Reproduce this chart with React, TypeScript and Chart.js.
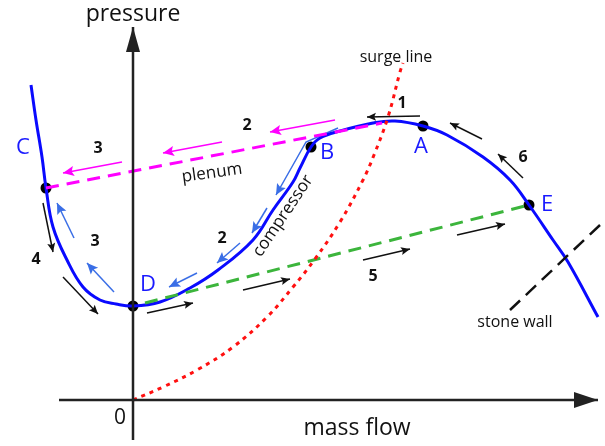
import React, { useEffect, useRef } from "react";
import { Chart, registerables } from "chart.js";

Chart.register(...registerables);

// ---- data (mass flow on x, pressure on y, arbitrary units, origin = 0) ----
const compressorFlow = [-102, -97, -91, -87, -80, -66, -50, -33, -17, 0, 27, 57, 85, 120, 140, 160, 167, 178, 187, 207, 240, 262, 290, 314, 350, 377, 396, 420, 435, 465];
const compressorPressure = [315, 280, 243, 212, 173, 140, 113, 100, 96, 94, 98, 112, 130, 160, 190, 218, 232, 253, 262, 269, 277, 279, 274, 265, 243, 220, 195, 160, 138, 83];

const surgeFlow = [0, 30, 64, 100, 134, 160, 182, 207, 230, 241, 255, 267, 270];
const surgePressure = [0, 13, 30, 53, 83, 113, 141, 178, 220, 245, 283, 328, 337];

const plenumFlow = [-87, 249];
const plenumPressure = [212, 277];

const dischargeFlow = [12, 396];
const dischargePressure = [97, 195];

const stoneWallFlow = [467, 377];
const stoneWallPressure = [175, 90];

const pointNames = ["A", "B", "C", "D", "E"];
const pointFlow = [290, 178, -87, 0, 396];
const pointPressure = [274, 253, 212, 94, 195];

// arrows as [fromFlow, fromPressure, toFlow, toPressure]
const blackArrows = [
  [287, 284, 234, 283],
  [349, 261, 317, 277],
  [390, 222, 365, 246],
  [-90, 197, -80, 148],
  [-70, 123, -35, 86],
  [14, 87, 60, 97],
  [110, 110, 157, 121],
  [230, 140, 277, 151],
  [324, 165, 372, 176],
];
const magentaArrows = [
  [202, 280, 137, 268],
  [89, 258, 30, 247],
  [-11, 238, -70, 227],
];
const blueArrows = [
  [134, 192, 119, 167],
  [107, 157, 84, 137],
  [64, 127, 36, 113],
  [-59, 162, -76, 197],
  [-19, 108, -46, 137],
];
const bentArrowFlow = [205, 173, 143];
const bentArrowPressure = [272, 258, 205];

const xAxisFlow = [-74, 465];
const yAxisPressure = [-40, 373];

const stepNumbers = ["1", "2", "3", "6", "3", "4", "2", "5"];
const stepFlow = [269, 114, -35, 390, -38, -97, 89, 240];
const stepPressure = [297, 275, 252, 243, 159, 141, 162, 124];

const textLabels = ["pressure", "mass flow", "0", "surge line", "stone wall", "plenum", "compressor"];
const textFlow = [0, 224, -13, 263, 382, 79, 150];
const textPressure = [386, -28, -18, 343, 78, 227, 184];

const nameFlow = [288, 194, -110, 15, 414];
const namePressure = [253, 247, 252, 115, 195];

// ---- styles ----
const FONT = '"Open Sans", "Noto Sans", sans-serif';
const textStyle = [
  { size: 23, rot: 0 },
  { size: 23, rot: 0 },
  { size: 21, rot: 0 },
  { size: 16, rot: 0 },
  { size: 16, rot: 0 },
  { size: 17, rot: -8 },
  { size: 17, rot: -56 },
];

const pts = (xs: number[], ys: number[]) => xs.map((x, i) => ({ x, y: ys[i] }));

const lineDs = (data: any[], color: string, width: number, extra: any = {}) => ({
  type: "scatter",
  data,
  showLine: true,
  borderColor: color,
  backgroundColor: color,
  borderWidth: width,
  pointRadius: 0,
  pointHoverRadius: 0,
  tension: 0,
  fill: false,
  clip: false,
  ...extra,
});

const arrowDs = (a: number[], color: string, width: number, head: number[]) =>
  lineDs(pts([a[0], a[2]], [a[1], a[3]]), color, width, { arrowHead: head });

const drawHead = (ctx: CanvasRenderingContext2D, from: any, to: any, head: number[], color: string) => {
  const [len, half, notch] = head;
  const ang = Math.atan2(to.y - from.y, to.x - from.x);
  ctx.save();
  ctx.translate(to.x, to.y);
  ctx.rotate(ang);
  ctx.beginPath();
  ctx.moveTo(0, 0);
  ctx.lineTo(-len, -half);
  ctx.lineTo(-len * notch, 0);
  ctx.lineTo(-len, half);
  ctx.closePath();
  ctx.fillStyle = color;
  ctx.fill();
  ctx.restore();
};

const decorPlugin = {
  id: "decor",
  afterDatasetsDraw(chart: any) {
    const ctx: CanvasRenderingContext2D = chart.ctx;
    const xs = chart.scales.x;
    const ys = chart.scales.y;
    chart.data.datasets.forEach((ds: any, i: number) => {
      if (!ds.arrowHead) return;
      const meta = chart.getDatasetMeta(i);
      const n = meta.data.length;
      if (n < 2) return;
      const a = meta.data[n - 2];
      const b = meta.data[n - 1];
      drawHead(ctx, { x: a.x, y: a.y }, { x: b.x, y: b.y }, ds.arrowHead, ds.borderColor);
    });
    ctx.save();
    ctx.textAlign = "center";
    ctx.textBaseline = "middle";
    textLabels.forEach((t, i) => {
      const st = textStyle[i];
      ctx.save();
      ctx.translate(xs.getPixelForValue(textFlow[i]), ys.getPixelForValue(textPressure[i]));
      ctx.rotate((st.rot * Math.PI) / 180);
      ctx.font = `${st.size}px ${FONT}`;
      ctx.fillStyle = "#111";
      ctx.fillText(t, 0, 0);
      ctx.restore();
    });
    ctx.font = `bold 16px ${FONT}`;
    ctx.fillStyle = "#111";
    stepNumbers.forEach((t, i) => {
      ctx.fillText(t, xs.getPixelForValue(stepFlow[i]), ys.getPixelForValue(stepPressure[i]));
    });
    ctx.font = `22px ${FONT}`;
    ctx.fillStyle = "#1a1aff";
    pointNames.forEach((t, i) => {
      ctx.fillText(t, xs.getPixelForValue(nameFlow[i]), ys.getPixelForValue(namePressure[i]));
    });
    ctx.restore();
  },
};

export default function App() {
  const ref = useRef<HTMLCanvasElement | null>(null);
  useEffect(() => {
    document.body.style.margin = "0";
    const canvas = ref.current;
    if (!canvas) return;
    const smallHead = [9, 4, 0.8];
    const datasets: any[] = [
      lineDs(pts([xAxisFlow[0], xAxisFlow[1]], [0, 0]), "#222", 2.5, { arrowHead: [24, 8, 1] }),
      lineDs(pts([0, 0], [yAxisPressure[0], yAxisPressure[1]]), "#222", 2.5, { arrowHead: [25, 7, 1] }),
      lineDs(pts(surgeFlow, surgePressure), "#ff1010", 3, { tension: 0.4, borderDash: [4, 5] }),
      lineDs(pts(plenumFlow, plenumPressure), "#ff00ff", 3, { borderDash: [13, 8] }),
      lineDs(pts(dischargeFlow, dischargePressure), "#3cb53c", 3, { borderDash: [13, 8] }),
      lineDs(pts(stoneWallFlow, stoneWallPressure), "#111", 2.5, { borderDash: [14, 8] }),
      lineDs(pts(compressorFlow, compressorPressure), "#0a0aff", 3, { tension: 0.4 }),
      lineDs(pts(bentArrowFlow, bentArrowPressure), "#3a6ee6", 1.5, { arrowHead: [11, 5, 0.8] }),
      ...blackArrows.map((a) => arrowDs(a, "#111", 1.5, smallHead)),
      ...magentaArrows.map((a) => arrowDs(a, "#ff00ff", 1.5, [11, 5, 0.8])),
      ...blueArrows.map((a) => arrowDs(a, "#3a6ee6", 1.5, [11, 5, 0.8])),
      {
        type: "scatter",
        data: pts(pointFlow, pointPressure),
        showLine: false,
        pointRadius: 5.5,
        pointBackgroundColor: "#000",
        pointBorderWidth: 0,
        clip: false,
      },
    ];
    const chart = new Chart(canvas, {
      type: "scatter",
      data: { datasets },
      options: {
        animation: false,
        responsive: false,
        maintainAspectRatio: false,
        layout: { padding: 0, autoPadding: false },
        plugins: { legend: { display: false }, tooltip: { enabled: false } },
        events: [],
        scales: {
          x: { type: "linear", min: -133, max: 472, display: false },
          y: { type: "linear", min: -46, max: 400, display: false },
        },
      },
      plugins: [decorPlugin],
    } as any);
    return () => chart.destroy();
  }, []);
  return (
    <div style={{ width: 605, height: 446 }}>
      <canvas ref={ref} width={605} height={446} />
    </div>
  );
}
